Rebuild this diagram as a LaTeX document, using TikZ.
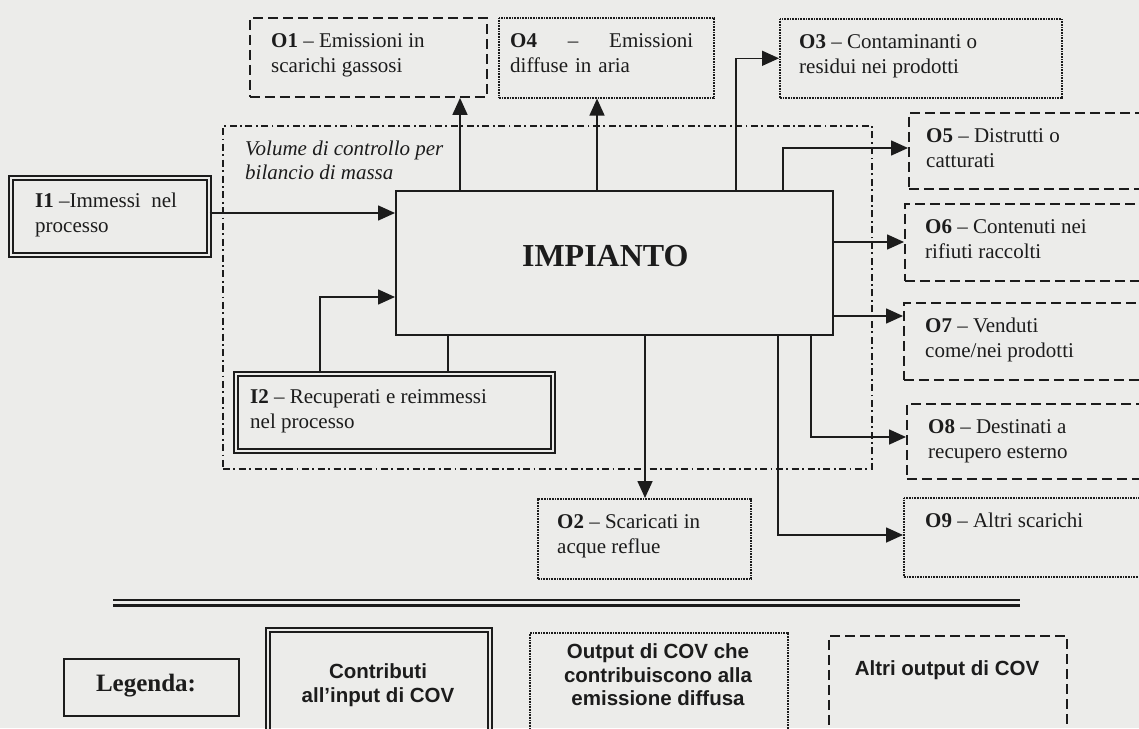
\documentclass[tikz,border=0pt]{standalone}
\usepackage{fontspec}
\setmainfont{Liberation Serif}
\newfontfamily\legsans{Liberation Sans}
\usetikzlibrary{arrows.meta,calc}
\definecolor{bgc}{RGB}{236,236,234}
\definecolor{ink}{RGB}{28,28,28}
\begin{document}
\begin{tikzpicture}[x=1pt,y=-1pt,
  solidbox/.style={draw=ink, line width=1.7pt, anchor=north west, inner sep=0pt},
  dashbox/.style={draw=ink, line width=1.9pt, dash pattern=on 10pt off 5pt, anchor=north west, inner sep=0pt},
  dotbox/.style={draw=ink, line width=1.6pt, dash pattern=on 0.8pt off 0.8pt, anchor=north west, inner sep=0pt},
  dblbox/.style={draw=ink, line width=1.7pt, double=bgc, double distance=2.6pt, anchor=north west, inner sep=0pt},
  cvol/.style={draw=ink, line width=1.8pt, dash pattern=on 7pt off 3.5pt on 1.8pt off 3.5pt, anchor=north west, inner sep=0pt},
  flow/.style={draw=ink, line width=1.6pt, -{Triangle[length=17pt,width=15pt]}},
  link/.style={draw=ink, line width=1.6pt},
  txt/.style={inner sep=0pt, anchor=north west, align=left, text=ink, font=\fontsize{21}{25}\selectfont},
  legtxt/.style={inner sep=0pt, align=center, text=ink, font=\legsans\bfseries\fontsize{20.5}{23.5}\selectfont}
]
\useasboundingbox (0,0) rectangle (1139,728);
\clip (0,0) rectangle (1139,728);
\fill[bgc] (0,0) rectangle (1139,728);

% control volume
\node[cvol, minimum width=649pt, minimum height=343pt] (cv) at (222,125) {};
\node[txt, font=\itshape\fontsize{21}{24}\selectfont] (cvt) at (245,141) {Volume di controllo per\\bilancio di massa};

% plant
\node[solidbox, minimum width=437pt, minimum height=144pt,
      label={[name=impt, font=\bfseries\fontsize{32}{36}\selectfont, text=ink, xshift=-9pt, yshift=7pt]center:IMPIANTO}] (imp) at (395,190) {};

% output boxes
\node[dashbox, minimum width=237pt, minimum height=79pt] (o1) at (249,17) {};
\node[txt] (o1t) at (271,33) {\textbf{O1} -- Emissioni in\\scarichi gassosi};

\node[dotbox, minimum width=215pt, minimum height=80pt] (o4) at (498,17) {};
\node[txt, text width=183pt] (o4t) at (510,33) {\textbf{O4}\hfill--\hfill Emissioni\\diffuse in aria};

\node[dotbox, minimum width=282pt, minimum height=79pt] (o3) at (779,18) {};
\node[txt] (o3t) at (799,34) {\textbf{O3} -- Contaminanti o\\residui nei prodotti};

\node[dashbox, minimum width=260pt, minimum height=76pt] (o5) at (908,112) {};
\node[txt] (o5t) at (926,128) {\textbf{O5} -- Distrutti o\\catturati};

\node[dashbox, minimum width=264pt, minimum height=77pt] (o6) at (904,203) {};
\node[txt] (o6t) at (925,219) {\textbf{O6} -- Contenuti nei\\rifiuti raccolti};

\node[dashbox, minimum width=265pt, minimum height=77pt] (o7) at (903,302) {};
\node[txt] (o7t) at (925,318) {\textbf{O7} -- Venduti\\come/nei prodotti};

\node[dashbox, minimum width=262pt, minimum height=75pt] (o8) at (906,403) {};
\node[txt] (o8t) at (928,419) {\textbf{O8} -- Destinati a\\recupero esterno};

\node[dotbox, minimum width=265pt, minimum height=79pt] (o9) at (903,497) {};
\node[txt] (o9t) at (925,513) {\textbf{O9} -- Altri scarichi};

\node[dotbox, minimum width=213pt, minimum height=80pt] (o2) at (537,498) {};
\node[txt] (o2t) at (557,514) {\textbf{O2} -- Scaricati in\\acque reflue};

% input boxes
\node[dblbox, minimum width=198pt, minimum height=77pt] (i1) at (10,177) {};
\node[txt] (i1t) at (35,193) {\textbf{I1} --Immessi\ \ nel\\processo};

\node[dblbox, minimum width=317pt, minimum height=77pt] (i2) at (235,373) {};
\node[txt] (i2t) at (250,389) {\textbf{I2} -- Recuperati e reimmessi\\nel processo};

% connectors
\draw[flow] (i1.east |- 0,213) -- (imp.west |- 0,213);
\draw[flow] ($(i2.north west)+(85,0)$) coordinate (i2up) |- (imp.west |- 0,297);
\draw[link] ($(imp.south west)+(53,0)$) coordinate (i2rt) -- (i2rt |- i2.north);

\draw[flow] ($(imp.north west)+(65,0)$) coordinate (a1) -- (a1 |- o1.south);
\draw[flow] ($(imp.north west)+(202,0)$) coordinate (a4) -- (a4 |- o4.south);
\draw[flow] ($(imp.north west)+(341,0)$) coordinate (a3) |- (o3.west);
\draw[flow] ($(imp.north west)+(388,0)$) coordinate (a5) |- (o5.west |- 0,148);
\draw[flow] (imp.east |- 0,242) -- (o6.west |- 0,242);
\draw[flow] (imp.east |- 0,316) -- (o7.west |- 0,316);
\draw[flow] ($(imp.south west)+(416,0)$) coordinate (a8) |- (o8.west |- 0,437);
\draw[flow] ($(imp.south west)+(383,0)$) coordinate (a9) |- (o9.west |- 0,535);
\draw[flow] ($(imp.south west)+(250,0)$) coordinate (a2) -- (a2 |- o2.north);

% legend separator
\draw[line width=2pt, draw=ink] (113,600) -- (1020,600);
\draw[line width=3pt, draw=ink] (113,605.5) -- (1020,605.5);

% legend
\node[solidbox, line width=2.2pt, minimum width=175pt, minimum height=57pt] (leg) at (63,658) {};
\node[inner sep=0pt, text=ink, font=\bfseries\fontsize{25}{28}\selectfont] (legt) at (146,686) {Legenda:};

\node[dblbox, minimum width=222pt, minimum height=120pt] (lin) at (267,629) {};
\node[legtxt] (lint) at (378,685) {Contributi\\all’input di COV};

\node[dotbox, minimum width=258pt, minimum height=120pt] (ldf) at (529,632) {};
\node[legtxt] (ldft) at (658,675) {Output di COV che\\contribuiscono alla\\emissione diffusa};

\node[dashbox, minimum width=238pt, minimum height=120pt] (lot) at (828,635) {};
\node[legtxt] (lott) at (947,670) {Altri output di COV};
\end{tikzpicture}
\end{document}
